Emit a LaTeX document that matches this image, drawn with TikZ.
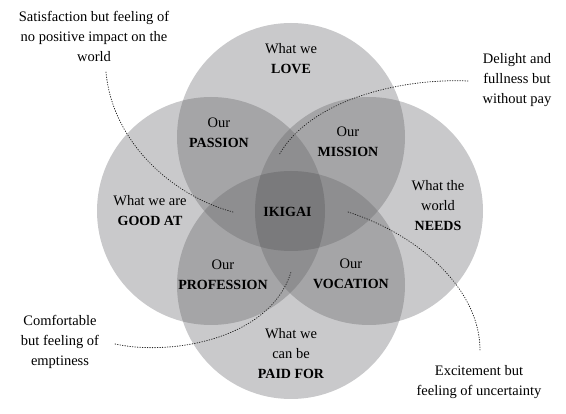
\documentclass[tikz,border=0pt]{standalone}
\usepackage{fontspec}
\setmainfont{Liberation Serif}
% bold key word inside a circle label
\newcommand\kw[1]{{\fontsize{14}{20}\selectfont\bfseries #1}}
\begin{document}
\begin{tikzpicture}[x=1pt,y=-1pt,
  lbl/.style={align=center,inner sep=0pt,font=\fontsize{14.5}{20}\selectfont},
  callout/.style={lbl},
  leader/.style={line width=0.8pt,dash pattern=on 0.7pt off 1.8pt,line cap=round,black!85}]
\definecolor{oneset}{RGB}{201,201,203}
\definecolor{twoset}{RGB}{165,165,167}
\definecolor{threeset}{RGB}{142,142,144}
\definecolor{fourset}{RGB}{122,122,124}
\def\rad{114}
\useasboundingbox[fill=white] (0,0) rectangle (566,414);
% circle centres
\coordinate (cT) at (291,137);
\coordinate (cL) at (211,211);
\coordinate (cR) at (369,211);
\coordinate (cB) at (291,285);
% single circles
\foreach \c in {cT,cL,cR,cB} \fill[oneset] (\c) circle (\rad);
% pairwise overlaps
\foreach \a/\b in {cT/cL,cT/cR,cT/cB,cL/cR,cL/cB,cR/cB}{
  \begin{scope}\clip (\a) circle (\rad); \fill[twoset] (\b) circle (\rad);\end{scope}}
% triple overlaps
\foreach \a/\b/\c in {cT/cL/cR,cT/cL/cB,cT/cR/cB,cL/cR/cB}{
  \begin{scope}\clip (\a) circle (\rad); \clip (\b) circle (\rad);
    \fill[threeset] (\c) circle (\rad);\end{scope}}
% the common centre
\begin{scope}\clip (cT) circle (\rad); \clip (cL) circle (\rad); \clip (cR) circle (\rad);
  \fill[fourset] (cB) circle (\rad);\end{scope}

% labels inside the circles
\node[lbl] (love) at (291,59) {What we\\\kw{LOVE}};
\node[lbl] (goodat) at (150,211) {What we are\\\kw{GOOD AT}};
\node[lbl] (needs) at (438,206) {What the\\world\\\kw{NEEDS}};
\node[lbl] (paid) at (291,354) {What we\\can be\\\kw{PAID FOR}};
\node[lbl] (passion) at (219,133) {Our\\\kw{PASSION}};
\node[lbl] (mission) at (348,142) {Our\\\kw{MISSION}};
\node[lbl] (profession) at (223,275) {Our\\\kw{PROFESSION}};
\node[lbl] (vocation) at (351,274) {Our\\\kw{VOCATION}};
\node[lbl] (ikigai) at (287.5,212) {\kw{IKIGAI}};

% outer remarks
\node[callout] (sat) at (94,36) {Satisfaction but feeling of\\no positive impact on the\\world};
\node[callout] (delight) at (517,80) {Delight and\\fullness but\\without pay};
\node[callout] (comfort) at (60,342) {Comfortable\\but feeling of\\emptiness};
\node[callout] (excite) at (479,382) {Excitement but\\feeling of uncertainty};

% leader end points
\coordinate (satA) at (106,72);   \coordinate (satB) at (233,212);
\coordinate (delA) at (468,81);   \coordinate (delB) at (279,155);
\coordinate (comA) at (115,344);  \coordinate (comB) at (291,272);
\coordinate (excA) at (348,212);  \coordinate (excB) at (480,350);

\draw[leader] (satA) .. controls (112,140) and (170,195) .. (satB);
\draw[leader] (delA) .. controls (400,78) and (310,100) .. (delB);
\draw[leader] (comA) .. controls (170,356) and (270,340) .. (comB);
\draw[leader] (excA) .. controls (420,235) and (480,290) .. (excB);
\end{tikzpicture}
\end{document}
